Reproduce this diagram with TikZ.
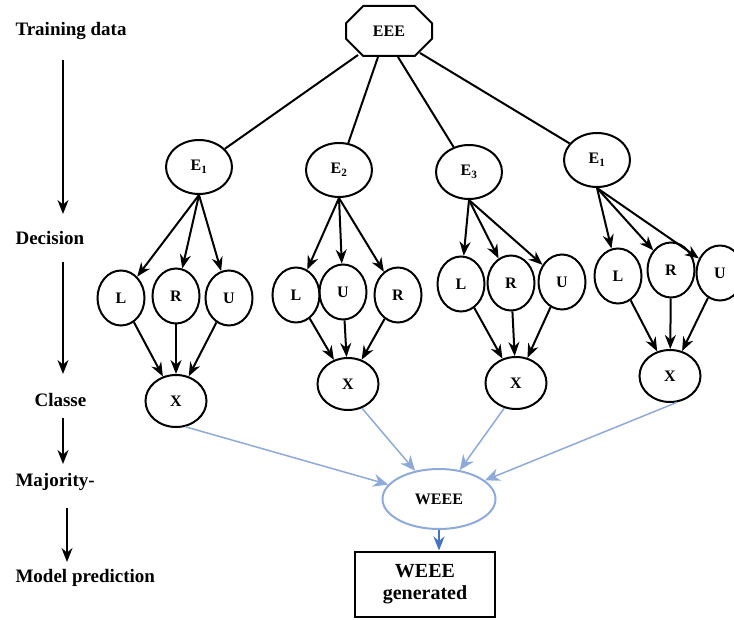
\documentclass[tikz,border=0pt]{standalone}
\usepackage{fontspec}
\setmainfont{Liberation Serif}
\usetikzlibrary{arrows.meta,shapes.geometric,shapes.misc}

\definecolor{lightblue}{HTML}{8EAADB}
\definecolor{darkblue}{HTML}{4472C4}

\tikzset{
  stage/.style={anchor=west,font=\bfseries\fontsize{19}{19}\selectfont},
  est/.style={draw,ellipse,line width=2pt,inner sep=0pt,minimum width=66pt,minimum height=54pt,font=\bfseries\fontsize{16}{16}\selectfont},
  leaf/.style={draw,ellipse,line width=2pt,inner sep=0pt,minimum width=47pt,minimum height=55pt,font=\bfseries\fontsize{16}{16}\selectfont},
  cls/.style={draw,ellipse,line width=2pt,inner sep=0pt,minimum width=61pt,minimum height=52pt,font=\bfseries\fontsize{16}{16}\selectfont},
  vote/.style={-{Stealth[length=15pt,width=13pt]},draw=lightblue,fill=lightblue,line width=1.5pt}
}

\begin{document}
\begin{tikzpicture}[>={Stealth[length=14pt,width=11pt]},x=1pt,y=-1pt]
\useasboundingbox (0,0) rectangle (734,620);

% stages on the left
\node[stage] (s1) at (12,31)  {Training data};
\node[stage] (s2) at (12,238) {Decision};
\node[stage] (s3) at (31,400) {Classe};
\node[stage] (s4) at (12,482) {Majority-};
\node[stage] (s5) at (12,578) {Model prediction};

\coordinate (a1) at (63,60);   \coordinate (b1) at (63,214);
\coordinate (a2) at (63,262);  \coordinate (b2) at (63,374);
\coordinate (a3) at (63,418);  \coordinate (b3) at (63,464);
\coordinate (a4) at (67,508);  \coordinate (b4) at (67,562);
\foreach \i in {1,...,4}
  \draw[->,line width=1.5pt] (a\i) -- (b\i);

% training set
\node[draw,chamfered rectangle,chamfered rectangle xsep=12pt,chamfered rectangle ysep=12pt,
      line width=2pt,minimum width=86pt,minimum height=50pt,inner sep=0pt,
      font=\bfseries\fontsize{16}{16}\selectfont] (eee) at (389,31) {EEE};

% estimators
\node[est] (e1) at (199,167) {E\textsubscript{1}};
\node[est] (e2) at (339,170) {E\textsubscript{2}};
\node[est] (e3) at (469,172) {E\textsubscript{3}};
\node[est] (e4) at (597,160) {E\textsubscript{1}};

\draw[line width=2pt] (358,55) -- (e1);
\draw[line width=2pt] (378,57) -- (e2);
\draw[line width=2pt] (398,57) -- (e3);
\draw[line width=2pt] (420,53) -- (e4);

% decisions
\node[leaf] (l1) at (121,298) {L};
\node[leaf] (r1) at (176,296) {R};
\node[leaf] (u1) at (229,298) {U};

\node[leaf] (l2) at (296,295) {L};
\node[leaf] (u2) at (343,292) {U};
\node[leaf] (r2) at (398,295) {R};

\node[leaf] (l3) at (461,284) {L};
\node[leaf] (r3) at (511,283) {R};
\node[leaf] (u3) at (562,282) {U};

\node[leaf] (l4) at (618,276) {L};
\node[leaf] (r4) at (671,270) {R};
\node[leaf] (u4) at (720,273) {U};

% classes
\node[cls] (x1) at (176,401) {X};
\node[cls] (x2) at (348,384) {X};
\node[cls] (x3) at (516,383) {X};
\node[cls] (x4) at (670,376) {X};

\path[->,line width=2pt]
  (e1.south) edge (l1) edge (r1) edge (u1)
  (e2.south) edge (l2) edge (u2) edge (r2)
  (e3.south) edge (l3) edge (r3) edge (u3)
  (e4.south) edge (l4) edge (r4) edge (u4)
  (l1) edge (x1)  (r1) edge (x1)  (u1) edge (x1)
  (l2) edge (x2)  (u2) edge (x2)  (r2) edge (x2)
  (l3) edge (x3)  (r3) edge (x3)  (u3) edge (x3)
  (l4) edge (x4)  (r4) edge (x4)  (u4) edge (x4);

% majority vote
\node[draw=lightblue,ellipse,line width=2pt,inner sep=0pt,minimum width=113pt,minimum height=60pt,
      font=\bfseries\fontsize{16}{16}\selectfont] (weee) at (439,499) {WEEE};

\draw[vote] (x1.-70) -- (weee);
\draw[vote] (x2.-60) -- (weee);
\draw[vote] (x3.-115) -- (weee);
\draw[vote] (x4.-75) -- (weee);

% prediction
\node[draw,line width=2pt,minimum width=140pt,minimum height=65pt,align=center,
      font=\bfseries\fontsize{20}{22}\selectfont] (out) at (425,584) {WEEE\\generated};

\draw[->,draw=darkblue,fill=darkblue,line width=2pt] (weee) -- (weee |- out.north);
\end{tikzpicture}
\end{document}
